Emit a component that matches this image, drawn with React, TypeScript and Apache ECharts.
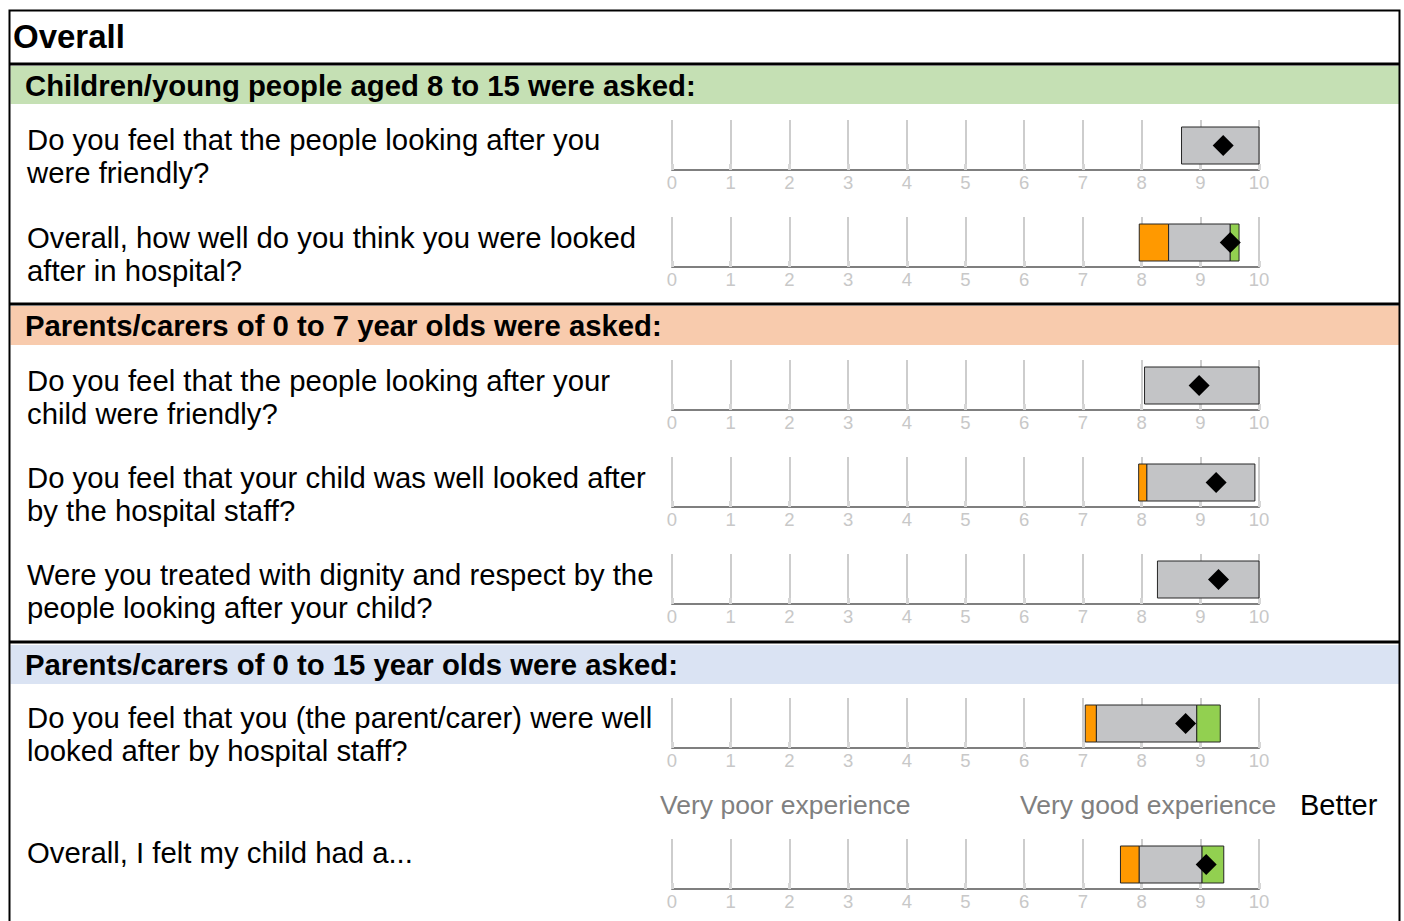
import React, { useEffect, useRef } from "react";
import * as echarts from "echarts";

const pageTitle = "Overall";
const sectionTitles = [
  "Children/young people aged 8 to 15 were asked:",
  "Parents/carers of 0 to 7 year olds were asked:",
  "Parents/carers of 0 to 15 year olds were asked:",
];
const questions = [
  "Do you feel that the people looking after you\nwere friendly?",
  "Overall, how well do you think you were looked\nafter in hospital?",
  "Do you feel that the people looking after your\nchild were friendly?",
  "Do you feel that your child was well looked after\nby the hospital staff?",
  "Were you treated with dignity and respect by the\npeople looking after your child?",
  "Do you feel that you (the parent/carer) were well\nlooked after by hospital staff?",
  "Overall, I felt my child had a...",
];
// score ranges: orange = rangeMin..lowerLimit, grey = lowerLimit..upperLimit, green = upperLimit..rangeMax
const rangeMin = [8.68, 7.96, 8.05, 7.95, 8.27, 7.04, 7.64];
const lowerLimit = [8.68, 8.46, 8.05, 8.09, 8.27, 7.23, 7.96];
const upperLimit = [10, 9.51, 10, 9.93, 10, 8.94, 9.03];
const rangeMax = [10, 9.66, 10, 9.93, 10, 9.34, 9.4];
const scores = [9.39, 9.51, 8.98, 9.27, 9.31, 8.75, 9.1];
const axisMin = 0;
const axisMax = 10;
const scaleLabels = ["Very poor experience", "Very good experience", "Better"];

// layout
const W = 1404;
const H = 921;
const GRID_LEFT = 672;
const GRID_RIGHT = 145;
const GRID_H = 50;
const GRID_TOPS = [120, 217, 360, 457, 554, 698, 839];
const QUESTION_Y = [156, 253.5, 396.5, 493.5, 590.5, 733.5, 852];
const SECTION_BANDS = [
  [66, 104],
  [306, 345],
  [645, 684],
];
const SECTION_COLORS = ["#C5E0B4", "#F8CBAD", "#DAE3F3"];
const DIVIDERS = [64, 304, 642];
const FONT = "'Liberation Sans', Arial, sans-serif";

const ORANGE = "#FF9900";
const GREY = "#C3C4C6";
const GREEN = "#92D050";

export default function App() {
  const ref = useRef<HTMLDivElement>(null);
  useEffect(() => {
    if (!ref.current) return;
    const chart = echarts.init(ref.current, undefined, { renderer: "svg" });

    const grids: any[] = [];
    const xAxes: any[] = [];
    const yAxes: any[] = [];
    const series: any[] = [];

    GRID_TOPS.forEach((top, i) => {
      grids.push({ left: GRID_LEFT, right: GRID_RIGHT, top, height: GRID_H, containLabel: false });
      xAxes.push({
        type: "value",
        gridIndex: i,
        min: axisMin,
        max: axisMax,
        interval: 1,
        axisLine: { show: true, onZero: false, lineStyle: { color: "#7F7F7F", width: 2 } },
        axisTick: { show: true, inside: true, length: 6, lineStyle: { color: "#D6D6D6", width: 3 } },
        splitLine: { show: true, lineStyle: { color: "#BDBDBD", width: 1.5 } },
        axisLabel: { color: "#C8C8C8", fontSize: 18.5, fontFamily: FONT, margin: 3 },
      });
      yAxes.push({ type: "value", gridIndex: i, min: 0, max: 1, show: false });
      series.push({
        type: "custom",
        xAxisIndex: i,
        yAxisIndex: i,
        silent: true,
        data: [[rangeMin[i], lowerLimit[i], upperLimit[i], rangeMax[i]]],
        renderItem: (params: any, api: any) => {
          const a = api.value(0);
          const b = api.value(1);
          const c = api.value(2);
          const d = api.value(3);
          const yTop = 0.86;
          const yBot = 0.12;
          const mk = (s: number, e: number, fill: string) => {
            const p0 = api.coord([s, yTop]);
            const p1 = api.coord([e, yBot]);
            return {
              type: "rect",
              shape: { x: p0[0], y: p0[1], width: p1[0] - p0[0], height: p1[1] - p0[1] },
              style: { fill, stroke: "#262626", lineWidth: 1 },
            };
          };
          const children: any[] = [];
          if (b > a) children.push(mk(a, b, ORANGE));
          if (c > b) children.push(mk(b, c, GREY));
          if (d > c) children.push(mk(c, d, GREEN));
          return { type: "group", children };
        },
        z: 2,
      });
      series.push({
        type: "scatter",
        xAxisIndex: i,
        yAxisIndex: i,
        silent: true,
        symbol: "diamond",
        symbolSize: 21,
        itemStyle: { color: "#000000", opacity: 1 },
        data: [[scores[i], 0.49]],
        z: 5,
      });
    });

    const graphics: any[] = [];
    graphics.push({
      type: "rect",
      shape: { x: 9.5, y: 10.5, width: 1390, height: 960 },
      style: { fill: "none", stroke: "#000", lineWidth: 2 },
      z: 10,
    });
    const txt = (text: string, x: number, y: number, font: string, fill: string, extra: any = {}) => ({
      type: "text",
      x,
      y,
      style: {
        text,
        font,
        fill,
        textAlign: "left",
        textVerticalAlign: "middle",
        align: "left",
        verticalAlign: "middle",
        ...extra,
      },
      z: 11,
    });
    SECTION_BANDS.forEach((b, i) => {
      graphics.push({
        type: "rect",
        shape: { x: 10.5, y: b[0], width: 1389, height: b[1] - b[0] },
        style: { fill: SECTION_COLORS[i] },
        z: 0,
      });
      graphics.push(txt(sectionTitles[i], 25, (b[0] + b[1]) / 2, `bold 29.3px ${FONT}`, "#000"));
    });
    DIVIDERS.forEach((y) => {
      graphics.push({
        type: "line",
        shape: { x1: 9, y1: y, x2: 1400, y2: y },
        style: { stroke: "#000", lineWidth: 3 },
        z: 10,
      });
    });
    graphics.push(txt(pageTitle, 13, 36, `bold 33px ${FONT}`, "#000"));
    questions.forEach((q, i) => {
      graphics.push(txt(q, 27, QUESTION_Y[i], `29.3px ${FONT}`, "#000", { lineHeight: 33 }));
    });
    const scaleX = [660, 1020, 1300];
    const scaleColors = ["#808080", "#808080", "#000"];
    const scaleSizes = [26.5, 26.5, 29];
    scaleLabels.forEach((t, i) => {
      graphics.push(txt(t, scaleX[i], 805, `${scaleSizes[i]}px ${FONT}`, scaleColors[i]));
    });

    chart.setOption({
      animation: false,
      backgroundColor: "#ffffff",
      grid: grids,
      xAxis: xAxes,
      yAxis: yAxes,
      series,
      graphic: { elements: graphics },
    });
    return () => chart.dispose();
  }, []);
  return (
    <div
      ref={ref}
      style={{ position: "absolute", left: 0, top: 0, width: W, height: H }}
    />
  );
}
